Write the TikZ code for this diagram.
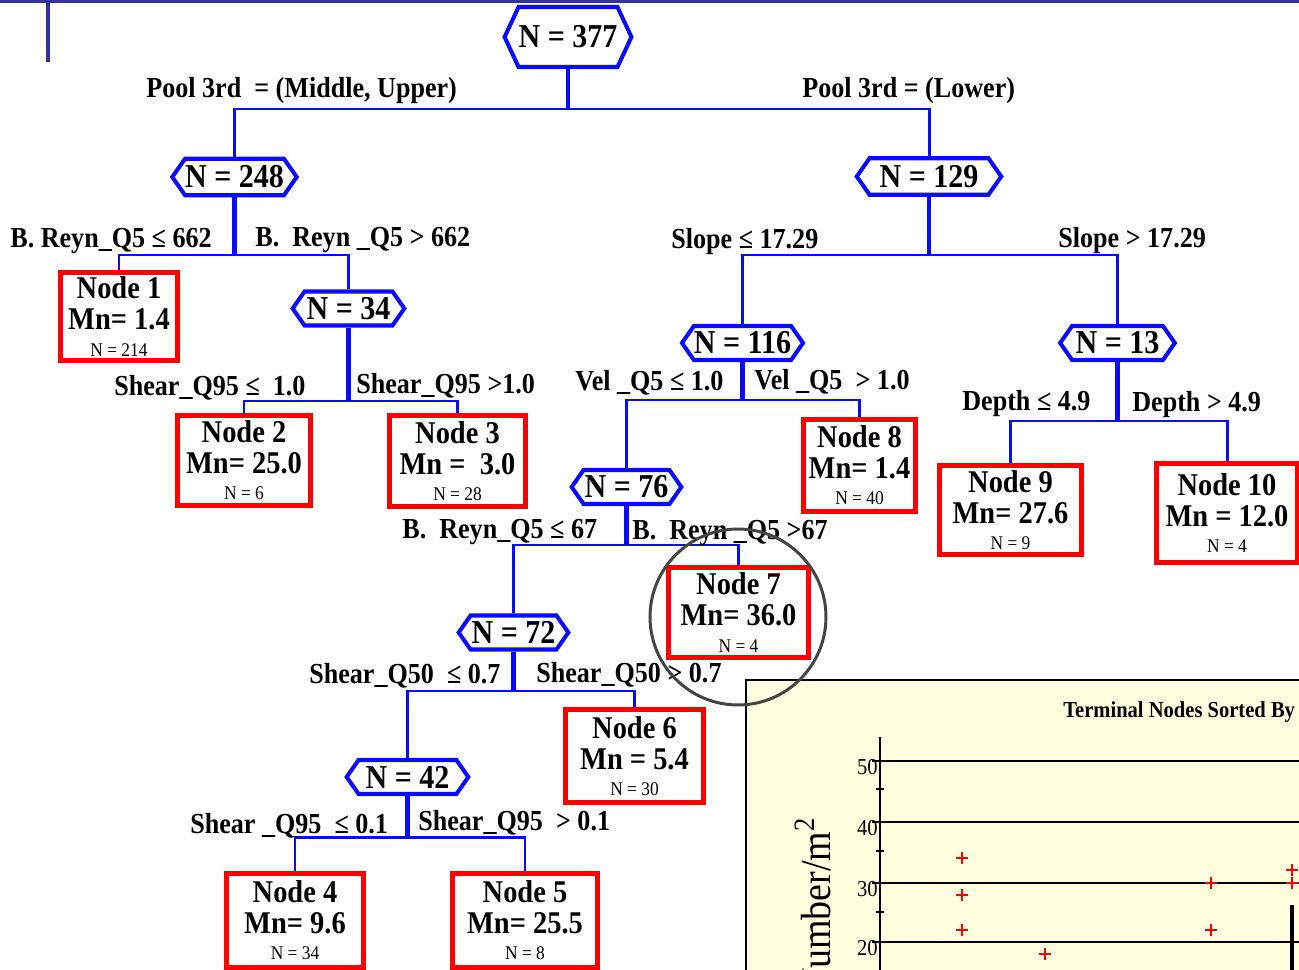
\documentclass[tikz,border=0pt]{standalone}
\usepackage{fontspec}
\setmainfont{Liberation Serif}[FakeStretch=0.9]
\usetikzlibrary{shapes.symbols}

\definecolor{treeblue}{RGB}{10,10,255}
\definecolor{boxred}{RGB}{255,0,0}
\definecolor{slidebar}{RGB}{51,51,153}
\definecolor{chartbg}{RGB}{255,255,224}
\definecolor{ringgray}{RGB}{68,68,68}

\tikzset{
  hexnode/.style={signal, signal to=east and west, signal pointer angle=110,
    draw=treeblue, line width=2.3pt, fill=white, inner xsep=0pt, inner ysep=0pt,
    minimum height=0.68cm, font=\fontsize{19}{21}\selectfont\bfseries},
  termbox/.style={rectangle, draw=boxred, line width=2.8pt, align=center,
    inner sep=0pt, font=\fontsize{18}{17.5}\selectfont\bfseries},
  splitlabel/.style={anchor=base west, inner sep=0pt,
    font=\fontsize{16.5}{18}\selectfont\bfseries},
  stem/.style={draw=treeblue, line width=2.5pt},
  bar/.style={draw=treeblue, line width=1.7pt},
  plusmark/.style={draw=red, line width=0.7pt},
}
\newcommand{\smalln}[1]{{\fontsize{11}{12}\selectfont\mdseries #1}}

\begin{document}
\begin{tikzpicture}[x=0.02cm, y=-0.02cm]
\clip (0,0) rectangle (1299,970);
\fill[white] (0,0) rectangle (1299,970);

% slide decoration
\draw[slidebar, line width=1.7pt] (0,1.5) -- (1299,1.5);
\draw[slidebar, line width=2.6pt] (48,0) -- (48,62);

% split nodes
\node[hexnode, signal pointer angle=130, minimum height=1.2cm] (n377) at (568,37) {N = 377};
\node[hexnode, minimum height=0.73cm] (n248) at (234.5,177) {N = 248};
\node[hexnode, minimum height=0.73cm, inner xsep=0.2cm] (n129) at (929,176.5) {N = 129};
\node[hexnode, inner xsep=0.04cm] (n34) at (348.5,308.5) {N = 34};
\node[hexnode] (n116) at (742.5,343) {N = 116};
\node[hexnode, inner xsep=0.07cm] (n13) at (1117.5,343) {N = 13};
\node[hexnode, inner xsep=0.02cm] (n76) at (626.5,487) {N = 76};
\node[hexnode, inner xsep=0.02cm] (n72) at (513.5,632.5) {N = 72};
\node[hexnode, inner xsep=0.14cm] (n42) at (407.5,777) {N = 42};

% terminal nodes
\node[termbox, minimum width=2.34cm, minimum height=1.76cm] (node1) at (119,316.5) {Node 1\\Mn= 1.4\\[-2.5pt]\smalln{N = 214}};
\node[termbox, minimum width=2.66cm, minimum height=1.8cm] (node2) at (244,460.5) {Node 2\\Mn= 25.0\\[-2.5pt]\smalln{N = 6}};
\node[termbox, minimum width=2.72cm, minimum height=1.82cm] (node3) at (457.5,461) {Node 3\\Mn =~ 3.0\\[-2.5pt]\smalln{N = 28}};
\node[termbox, minimum width=2.24cm, minimum height=1.84cm] (node8) at (859.5,465.5) {Node 8\\Mn= 1.4\\[-2.5pt]\smalln{N = 40}};
\node[termbox, minimum width=2.84cm, minimum height=1.78cm] (node9) at (1010.5,510) {Node 9\\Mn= 27.6\\[-2.5pt]\smalln{N = 9}};
\node[termbox, minimum width=2.82cm, minimum height=1.98cm] (node10) at (1227,513) {Node 10\\Mn = 12.0\\[-2.5pt]\smalln{N = 4}};
\node[termbox, minimum width=2.8cm, minimum height=1.8cm] (node7) at (738.5,612.5) {Node 7\\Mn= 36.0\\[-2.5pt]\smalln{N = 4}};
\node[termbox, minimum width=2.76cm, minimum height=1.86cm] (node6) at (634.5,756) {Node 6\\Mn = 5.4\\[-2.5pt]\smalln{N = 30}};
\node[termbox, minimum width=2.74cm, minimum height=1.88cm] (node4) at (295,920.5) {Node 4\\Mn= 9.6\\[-2.5pt]\smalln{N = 34}};
\node[termbox, minimum width=2.9cm, minimum height=1.88cm] (node5) at (525,920.5) {Node 5\\Mn= 25.5\\[-2.5pt]\smalln{N = 8}};

% connectors
\draw[stem] (n377.south) -- (n377.south |- 0,109);
\draw[bar] (n248.north) |- (n377.south |- 0,109) -| (n129.north);
\draw[stem] (n248.south) -- (n248.south |- 0,255);
\draw[bar] (node1.north) |- (n248.south |- 0,255) -| (n34.north);
\draw[stem] (n129.south) -- (n129.south |- 0,255);
\draw[bar] (n116.north) |- (n129.south |- 0,255) -| (n13.north);
\draw[stem] (n34.south) -- (n34.south |- 0,401);
\draw[bar] (node2.north) |- (n34.south |- 0,401) -| (node3.north);
\draw[stem] (n116.south) -- (n116.south |- 0,400);
\draw[bar] (n76.north) |- (n116.south |- 0,400) -| (node8.north);
\draw[stem] (n13.south) -- (n13.south |- 0,421);
\draw[bar] (node9.north) |- (n13.south |- 0,421) -| (node10.north);
\draw[stem] (n76.south) -- (n76.south |- 0,545);
\draw[bar] (n72.north) |- (n76.south |- 0,545) -| (node7.north);
\draw[stem] (n72.south) -- (n72.south |- 0,691);
\draw[bar] (n42.north) |- (n72.south |- 0,691) -| (node6.north);
\draw[stem] (n42.south) -- (n42.south |- 0,837);
\draw[bar] (node4.north) |- (n42.south |- 0,837) -| (node5.north);

% split rules
\node[splitlabel] (r1) at (146,97) {Pool 3rd ~= (Middle, Upper)};
\node[splitlabel] (r2) at (802,97) {Pool 3rd = (Lower)};
\node[splitlabel] (r3) at (10,247) {B. Reyn\_Q5 ≤ 662};
\node[splitlabel] (r4) at (255,246) {B.~ Reyn \_Q5 > 662};
\node[splitlabel] (r5) at (671,248) {Slope ≤ 17.29};
\node[splitlabel] (r6) at (1058,247) {Slope > 17.29};
\node[splitlabel] (r7) at (114,395) {Shear\_Q95 ≤~ 1.0};
\node[splitlabel] (r8) at (356,393) {Shear\_Q95 >1.0};
\node[splitlabel] (r9) at (575,390) {Vel \_Q5 ≤ 1.0};
\node[splitlabel] (r10) at (754,389) {Vel \_Q5 ~> 1.0};
\node[splitlabel] (r11) at (962,410) {Depth ≤ 4.9};
\node[splitlabel] (r12) at (1132,411) {Depth > 4.9};
\node[splitlabel] (r13) at (402,538) {B.~ Reyn\_Q5 ≤ 67};
\node[splitlabel] (r14) at (632,539) {B.~ Reyn \_Q5 >67};
\node[splitlabel] (r15) at (309,683) {Shear\_Q50 ~≤ 0.7};
\node[splitlabel] (r16) at (536,682) {Shear\_Q50 > 0.7};
\node[splitlabel] (r17) at (190,833) {Shear \_Q95 ~≤ 0.1};
\node[splitlabel] (r18) at (418,830) {Shear\_Q95 ~> 0.1};

% chart inset
\draw[fill=chartbg, line width=1.1pt] (746,680) rectangle (1320,990);
\node[anchor=base west, inner sep=0pt, font=\fontsize{13}{15}\selectfont\bfseries] (ctitle) at (1063,717) {Terminal Nodes Sorted By};
\foreach \yy/\lab in {761/50, 822/40, 883/30, 942/20}{
  \draw[line width=0.6pt] (872,\yy) -- (1320,\yy);
  \node[anchor=east, inner sep=0pt, font=\fontsize{13}{14}\selectfont] (tick\lab) at (878,\yy+6) {\lab};
}
\draw[line width=1.1pt] (872,822) -- (1320,822);
\draw[line width=0.8pt] (880,737) -- (880,990);
\foreach \yy in {789, 851, 912}
  \draw[line width=0.6pt] (876,\yy) -- (884,\yy);
\node[rotate=90, anchor=base east, inner sep=0pt, font=\fontsize{24}{26}\selectfont] (ylab) at (830,817) {Number/m\textsuperscript{2}};
\foreach \px/\py in {962/858, 962/895, 962/930, 1045/954, 1211/883, 1211/930, 1292/870, 1292/883}
  \draw[plusmark] (\px-6,\py) -- (\px+6,\py) (\px,\py-6) -- (\px,\py+6);
\draw[line width=2.3pt] (1292,905) -- (1292,990);

% highlight ring
\draw[ringgray, line width=1.7pt] (738,617) circle[radius=1.76cm];
\end{tikzpicture}
\end{document}
